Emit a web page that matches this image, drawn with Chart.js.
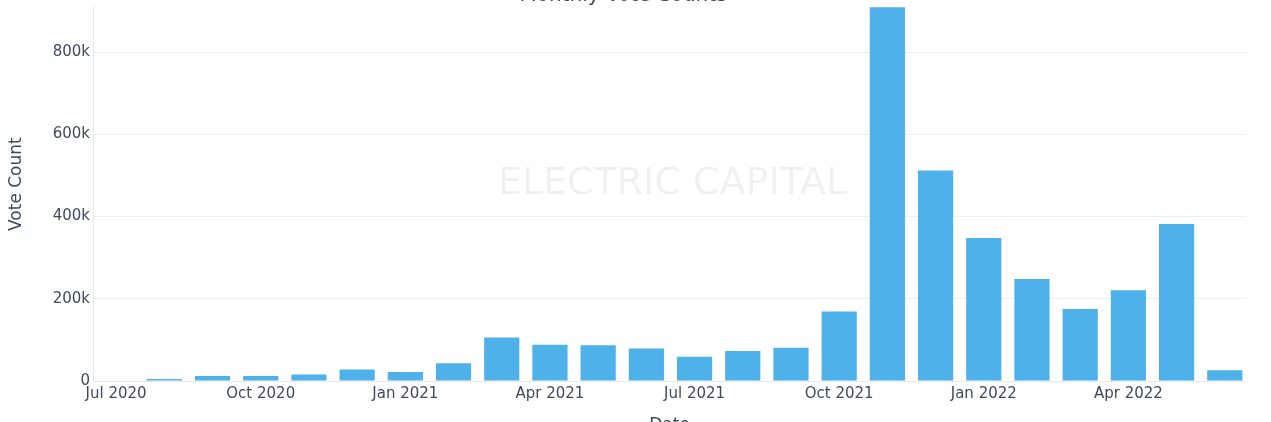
<!DOCTYPE html>
<html>
<head>
<meta charset="utf-8">
<title>Monthly Vote Counts</title>
<script src="https://cdn.jsdelivr.net/npm/chart.js@4.4.1/dist/chart.umd.min.js"></script>
<style>
  html, body { margin: 0; padding: 0; background: #fff; overflow: hidden; }
  #wrap { position: absolute; left: 0; top: -14px; width: 1271px; height: 460px; }
</style>
</head>
<body>
<div id="wrap"><canvas id="voteChart"></canvas></div>
<script>
// monthly buckets, Jul 2020 .. Jun 2022
const months = ['2020-07', '2020-08', '2020-09', '2020-10', '2020-11', '2020-12',
                '2021-01', '2021-02', '2021-03', '2021-04', '2021-05', '2021-06',
                '2021-07', '2021-08', '2021-09', '2021-10', '2021-11', '2021-12',
                '2022-01', '2022-02', '2022-03', '2022-04', '2022-05', '2022-06'];
const votes = [0, 5000, 12000, 12000, 16000, 28000,
               22000, 43000, 106000, 88000, 87000, 79000,
               59000, 73000, 81000, 169000, 909000, 512000,
               348000, 248000, 175000, 221000, 382000, 26000];
const tickIndex = [0, 3, 6, 9, 12, 15, 18, 21];
const tickLabels = ['Jul 2020', 'Oct 2020', 'Jan 2021', 'Apr 2021', 'Jul 2021', 'Oct 2021', 'Jan 2022', 'Apr 2022'];
const yTicks = [0, 200000, 400000, 600000, 800000];

const textColor = '#3f4a5e';
const fontFamily = '"DejaVu Sans", Verdana, sans-serif';

// watermark and the y title (plotly centres it on a taller domain than what is visible)
const overlay = {
    id: 'overlay',
    beforeDatasetsDraw(chart){
        const a = chart.chartArea;
        const c = chart.ctx;
        c.save();
        c.font = '38px ' + fontFamily;
        c.fillStyle = 'rgba(0,0,0,0.055)';
        c.textAlign = 'center';
        c.textBaseline = 'middle';
        c.fillText('ELECTRIC CAPITAL', (a.left + a.right) / 2 + 3, a.top + (a.bottom - a.top) * 0.475);
        c.restore();
    },
    afterDraw(chart){
        const a = chart.chartArea;
        const c = chart.ctx;
        c.save();
        c.font = '17px ' + fontFamily;
        c.fillStyle = textColor;
        c.textAlign = 'center';
        c.textBaseline = 'middle';
        c.translate(17, a.top + (a.bottom - a.top) * 0.475);
        c.rotate(-Math.PI / 2);
        c.fillText('Vote Count', 0, 0);
        c.restore();
    }
};

document.addEventListener('DOMContentLoaded', function(){
    const ctx = document.getElementById('voteChart');
    new Chart(ctx, {
        type: 'bar',
        data: {
            datasets: [{
                label: 'Vote Count',
                data: votes.map((v, i) => ({ x: i, y: v })),
                backgroundColor: '#4fb1e9',
                borderWidth: 0,
                barPercentage: 0.73,
                categoryPercentage: 1
            }]
        },
        options: {
            responsive: true,
            maintainAspectRatio: false,
            animation: false,
            layout: { padding: { left: 0, right: 25, top: 0, bottom: 0 } },
            plugins: {
                legend: { display: false },
                tooltip: { enabled: false },
                title: {
                    display: true,
                    text: 'Monthly Vote Counts',
                    color: textColor,
                    font: { family: fontFamily, size: 20, weight: 'normal', lineHeight: 1 },
                    padding: { top: 0, bottom: 0 }
                }
            },
            scales: {
                x: {
                    type: 'linear',
                    min: -0.48,
                    max: 23.44,
                    offset: false,
                    grid: { display: false, drawTicks: false },
                    border: { display: true, color: '#e8e8e8' },
                    afterBuildTicks: axis => { axis.ticks = tickIndex.map(v => ({ value: v })); },
                    afterFit: axis => { axis.height = 65; },
                    ticks: {
                        autoSkip: false,
                        maxRotation: 0,
                        padding: 4,
                        color: textColor,
                        font: { family: fontFamily, size: 15 },
                        callback: v => tickLabels[tickIndex.indexOf(v)] || ''
                    },
                    title: {
                        display: true,
                        text: 'Date',
                        color: textColor,
                        font: { family: fontFamily, size: 17 },
                        padding: { top: 0, bottom: 10 }
                    }
                },
                y: {
                    min: 0,
                    max: 912000,
                    grid: { color: '#eeeeee', drawTicks: false },
                    border: { display: true, color: '#e8e8e8' },
                    afterBuildTicks: axis => { axis.ticks = yTicks.map(v => ({ value: v })); },
                    afterFit: axis => { axis.width = 93; },
                    ticks: {
                        padding: 3,
                        color: textColor,
                        font: { family: fontFamily, size: 15 },
                        callback: v => v === 0 ? '0' : (v / 1000) + 'k'
                    },
                    title: { display: false }
                }
            }
        },
        plugins: [overlay]
    });
});
</script>
</body>
</html>
